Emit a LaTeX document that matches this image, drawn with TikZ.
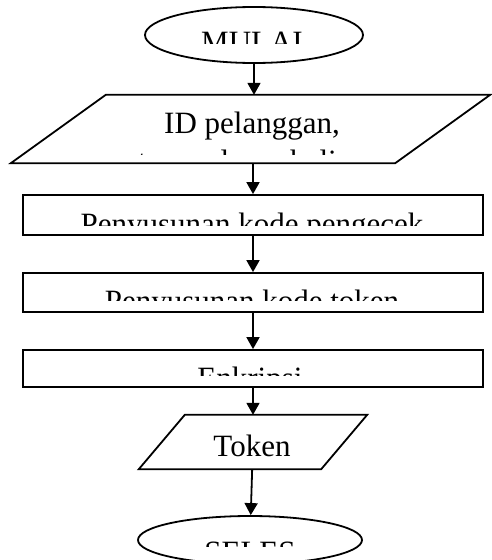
\documentclass[tikz,border=0pt]{standalone}
\usepackage{fontspec}
\setmainfont{Liberation Serif}
\usetikzlibrary{shapes.geometric, arrows.meta, calc}

\begin{document}
\begin{tikzpicture}[x=1pt, y=-1pt,
    term/.style={draw, ellipse, line width=1.8pt, inner sep=0pt},
    io/.style={rectangle, inner sep=0pt},
    proc/.style={draw, rectangle, line width=1.8pt, inner sep=0pt, minimum width=460pt},
    lbl/.style={font=\fontsize{31}{38}\selectfont, inner sep=0pt},
    arr/.style={line width=1.8pt, -{Triangle[width=13pt,length=12pt]}}]
\useasboundingbox (0,0) rectangle (491,560);
% shapes
\node[term, minimum width=218pt, minimum height=56pt] (mulai) at (254,35) {};
\node[io, minimum width=479pt, minimum height=68pt] (input) at (250.5,129) {};
\node[proc, minimum height=40pt] (cek) at (253,215) {};
\node[proc, minimum height=39pt] (kode) at (253,292.5) {};
\node[proc, minimum height=37pt] (enkripsi) at (253,368.5) {};
\node[io, minimum width=228pt, minimum height=54pt] (token) at (253,442) {};
\node[term, minimum width=224pt, minimum height=48pt] (selesai) at (250,540) {};
% the two slanted boxes
\foreach \n/\s in {input/95, token/46}{
  \draw[line width=1.8pt, line join=miter] (\n.south west) -- ($(\n.north west)+(\s,0)$)
    -- (\n.north east) -- ($(\n.south east)-(\s,0)$) -- cycle;
}

% texts, cut off at the bottom
\foreach \txt/\x/\b/\c [count=\i] in {MULAI/252/52/43, Penyusunan kode pengecek/252/234/225,
    Penyusunan kode token/252/311/300, Enkripsi/250/388/375, SELES/250/562/546}{
  \begin{scope}
    \clip (0,0) rectangle (491,\c);
    \node[lbl, anchor=base] (teks\i) at (\x,\b) {\txt};
  \end{scope}
}
\begin{scope}
  \clip (0,0) rectangle (491,154);
  \node[lbl, anchor=north, align=center] (teksinput) at (252,112) {ID pelanggan,\\tanggal pembelian};
\end{scope}
\node[lbl, anchor=base] (tekstoken) at (252,456) {Token};

% arrows
\draw[arr] (mulai) -- (mulai |- input.north);
\draw[arr] (cek |- input.south) -- (cek.north);
\draw[arr] (cek) -- (kode);
\draw[arr] (kode) -- (enkripsi);
\draw[arr] (enkripsi) -- (token);
\draw[arr] (token) -- (selesai);
\end{tikzpicture}
\end{document}
